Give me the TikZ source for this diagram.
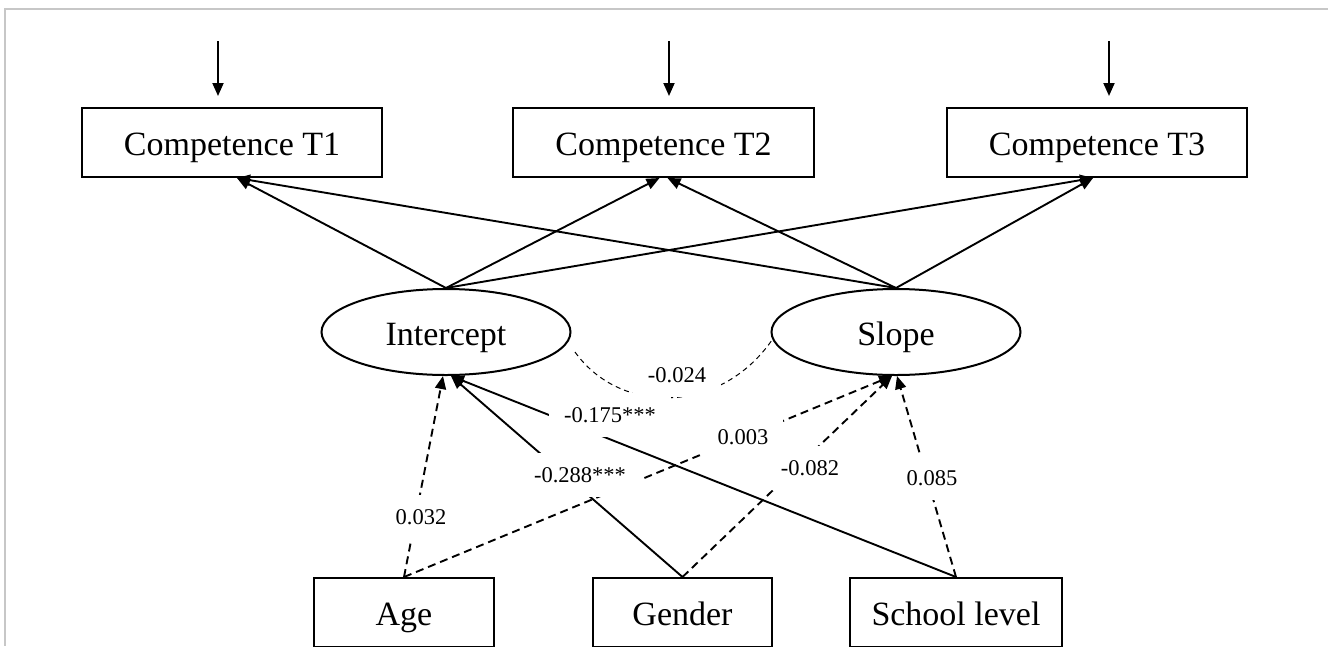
\documentclass[tikz,border=0pt]{standalone}
\usepackage{fontspec}
\setmainfont{Liberation Serif}
\usetikzlibrary{arrows.meta,shapes.geometric}
\begin{document}
\begin{tikzpicture}[x=1pt,y=-1pt,
  box/.style={draw,line width=2pt,minimum height=69pt,inner sep=0pt,text height=31pt,text depth=6pt,font=\fontsize{34}{40}\selectfont},
  lat/.style={draw,ellipse,line width=2pt,minimum width=249pt,minimum height=86pt,inner sep=0pt,text height=31pt,text depth=5pt,font=\fontsize{34}{40}\selectfont},
  conn/.style={line width=1.9pt,-{Triangle[length=13pt,width=11pt]}},
  dsh/.style={conn,dash pattern=on 8pt off 5pt},
  cov/.style={line width=1pt,dash pattern=on 5pt off 4pt},
  lbl/.style={fill=white,inner xsep=15pt,inner ysep=0pt,minimum height=44pt,font=\fontsize{22.5}{26}\selectfont}
]
\useasboundingbox (0,0) rectangle (1328,646);
\draw[black!22,line width=1.5pt] (1328,9) -- (5,9) -- (5,646);

% observed indicators
\node[box,minimum width=300pt] (T1) at (232,142.5) {Competence T1};
\node[box,minimum width=301pt] (T2) at (663.5,142.5) {Competence T2};
\node[box,minimum width=300pt] (T3) at (1097,142.5) {Competence T3};

% latent factors
\node[lat] (I) at (446,332) {Intercept};
\node[lat] (S) at (896,332) {Slope};

% covariates
\node[box,minimum width=180pt] (A) at (404,612.5) {Age};
\node[box,minimum width=179pt] (G) at (682.5,612.5) {Gender};
\node[box,minimum width=212pt] (L) at (956,612.5) {School level};

% residual arrows
\coordinate (e1s) at (218,41); \coordinate (e1e) at (218,96);
\coordinate (e2s) at (669,41); \coordinate (e2e) at (669,96);
\coordinate (e3s) at (1109,41); \coordinate (e3e) at (1109,96);
\draw[conn] (e1s) -- (e1e);
\draw[conn] (e2s) -- (e2e);
\draw[conn] (e3s) -- (e3e);

% loadings
\draw[conn] (I.north) -- ([xshift=5pt]T1.south);
\draw[conn] (I.north) -- ([xshift=-4pt]T2.south);
\draw[conn] (I.north) -- ([xshift=-4pt]T3.south);
\draw[conn] (S.north) -- ([xshift=5pt]T1.south);
\draw[conn] (S.north) -- ([xshift=4pt]T2.south);
\draw[conn] (S.north) -- ([xshift=-4pt]T3.south);

% covariance
\coordinate (c1) at (575,352);
\coordinate (c2) at (772,340);
\draw[cov] (c1) .. controls (620,415) and (720,415) .. (c2);

% regressions
\draw[dsh] (A.north) -- ([xshift=-3pt]I.south);
\draw[dsh] (A.north) -- ([xshift=-4pt]S.south);
\draw[conn] (G.north) -- ([xshift=5pt]I.south);
\draw[dsh] (G.north) -- ([xshift=-4pt]S.south);
\draw[conn] (L.north) -- ([xshift=5pt]I.south);
\draw[dsh] (L.north) -- ([xshift=1pt]S.south);

% labels
\node[lbl] (l024) at (677,375) {-0.024};
\node[lbl] (l175) at (610,415) {-0.175***};
\node[lbl] (l003) at (743,437) {0.003};
\node[lbl] (l288) at (580,475) {-0.288***};
\node[lbl] (l032) at (421,517) {0.032};
\node[lbl] (l082) at (810,468) {-0.082};
\node[lbl] (l085) at (932,478) {0.085};
\end{tikzpicture}
\end{document}
